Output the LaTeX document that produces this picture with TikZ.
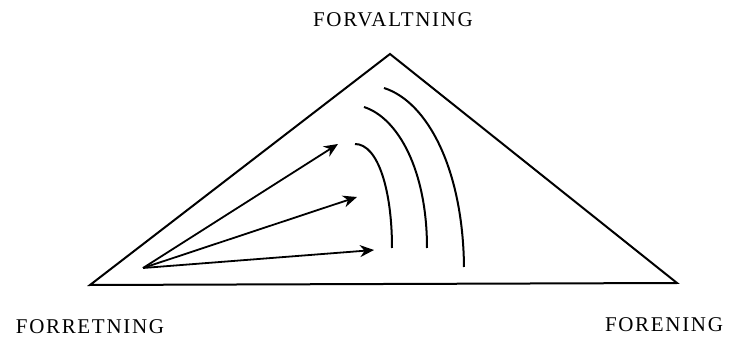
\documentclass[tikz,border=0pt]{standalone}
\usepackage{fontspec}
\setmainfont{Liberation Serif}
\usetikzlibrary{arrows.meta}

\begin{document}
\begin{tikzpicture}[
  x=1pt, y=-1pt,
  >={Stealth[length=14pt, width=12pt]},
  corner/.style={font=\fontsize{21}{24}\selectfont\addfontfeature{LetterSpace=8}, inner sep=0pt},
  side/.style={line width=2pt, line join=miter},
  push/.style={->, line width=1.8pt},
  layer/.style={line width=2pt, line cap=butt}
]
  \useasboundingbox (0,0) rectangle (732,342);

  % corners of the triangle
  \coordinate (forr) at (90,285);
  \coordinate (forv) at (390,54);
  \coordinate (fore) at (677,283);

  \draw[side] (forr) -- (forv) -- (fore) -- cycle;

  \node[corner] (lforv) at (393,20) {FORVALTNING};
  \node[corner] (lforr) at (90,327) {FORRETNING};
  \node[corner] (lfore) at (664,325) {FORENING};

  % arrows out of the left corner
  \coordinate (src) at (143,268);
  \coordinate (t1) at (338,144);
  \coordinate (t2) at (357,197);
  \coordinate (t3) at (374,250);
  \draw[push] (src) -- (t1);
  \draw[push] (src) -- (t2);
  \draw[push] (src) -- (t3);

  % curved layers
  \draw[layer] (355,144) .. controls (378,144) and (392,190) .. (392,248);
  \draw[layer] (364,107) .. controls (398,118) and (427,170) .. (427,248);
  \draw[layer] (384,88) .. controls (428,102) and (463,170) .. (464,267);
\end{tikzpicture}
\end{document}
